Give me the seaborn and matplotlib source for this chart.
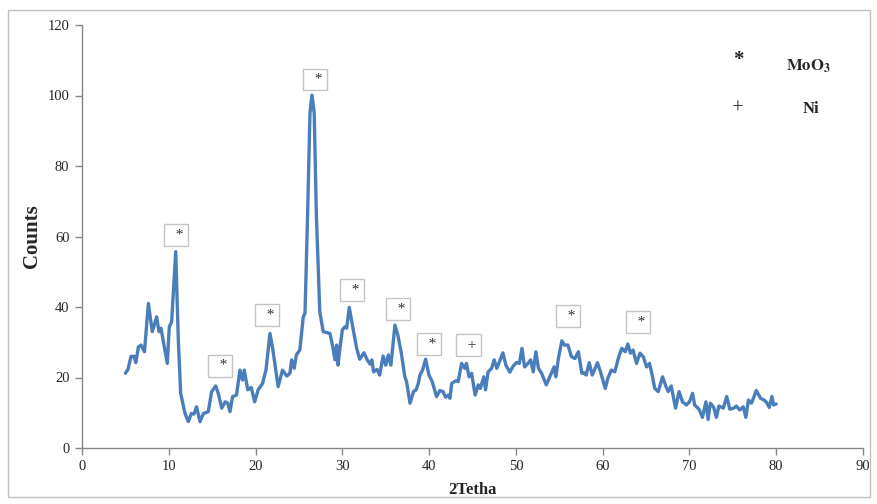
import matplotlib
matplotlib.use("Agg")
import matplotlib.pyplot as plt
import matplotlib.patches as mpatches
import seaborn as sns
import pandas as pd

two_theta = [5.0, 5.3, 5.65, 6.0, 6.2, 6.5, 6.8, 7.2, 7.65, 8.1, 8.6, 8.87, 9.1, 9.56, 9.83,
             10.06, 10.33, 10.8, 11.1, 11.37, 11.87, 12.25, 12.6, 12.9, 13.2, 13.6, 14.0,
             14.55, 14.94, 15.4, 15.7, 16.1, 16.5, 16.8, 17.05, 17.36, 17.8, 18.2, 18.5,
             18.7, 19.1, 19.5, 19.9, 20.3, 20.8, 21.2, 21.66, 22.0, 22.6, 23.1, 23.6,
             23.96, 24.16, 24.46, 24.7, 25.1, 25.5, 25.7, 26.0, 26.27, 26.5, 26.76, 27.0,
             27.4, 27.8, 28.26, 28.57, 28.9, 29.15, 29.34, 29.5, 29.7, 30.0, 30.3, 30.5,
             30.8, 31.26, 31.65, 32.0, 32.5, 32.87, 33.2, 33.4, 33.6, 34.0, 34.3, 34.7,
             35.0, 35.3, 35.6, 36.06, 36.4, 36.8, 37.2, 37.4, 37.8, 38.2, 38.5, 38.75,
             38.94, 39.25, 39.6, 39.98, 40.36, 40.86, 41.24, 41.6, 41.9, 42.2, 42.4, 42.6,
             43.1, 43.35, 43.74, 44.1, 44.3, 44.6, 44.9, 45.3, 45.66, 45.9, 46.3, 46.5,
             46.8, 47.2, 47.5, 47.8, 48.0, 48.5, 48.85, 49.3, 49.7, 50.1, 50.4, 50.7,
             51.0, 51.4, 51.7, 52.0, 52.3, 52.6, 52.96, 53.5, 54.0, 54.4, 54.6, 54.9,
             55.3, 55.6, 56.0, 56.4, 56.8, 57.2, 57.6, 57.8, 58.1, 58.45, 58.8, 59.4,
             59.8, 60.3, 60.6, 61.0, 61.4, 61.8, 62.2, 62.6, 62.9, 63.2, 63.5, 63.9,
             64.3, 64.7, 65.05, 65.4, 65.75, 66.0, 66.4, 66.9, 67.3, 67.55, 67.9, 68.4,
             68.8, 69.2, 69.66, 70.0, 70.36, 70.6, 71.1, 71.5, 71.9, 72.15, 72.4, 72.8,
             73.1, 73.4, 73.9, 74.3, 74.65, 75.1, 75.4, 75.8, 76.2, 76.5, 76.8, 77.15,
             77.7, 78.2, 78.6, 78.9, 79.2, 79.5, 79.7, 80.0]
counts = [21.2, 22.3, 26.0, 26.0, 24.2, 28.7, 29.2, 27.3, 41.0, 33.0, 37.2, 33.0, 34.0, 27.8, 24.0,
          34.4, 35.8, 55.7, 30.6, 15.5, 9.8, 7.5, 9.8, 9.6, 11.7, 7.5, 9.8,
          10.3, 16.0, 17.6, 15.5, 11.3, 13.1, 12.7, 10.3, 14.6, 15.0, 22.1, 19.3,
          22.1, 16.5, 17.2, 13.1, 16.5, 18.3, 22.1, 32.5, 27.8, 17.4, 22.1, 20.4,
          21.2, 25.0, 22.6, 26.4, 27.8, 37.2, 38.2, 66.6, 95.0, 100.1, 95.0, 66.6,
          38.7, 33.0, 32.7, 32.5, 28.7, 25.0, 29.2, 23.5, 27.8, 33.5, 34.4, 34.0,
          39.9, 33.5, 28.3, 25.2, 27.0, 25.0, 23.8, 25.0, 21.6, 22.3, 20.7, 26.1,
          23.5, 26.4, 23.5, 34.9, 32.0, 26.9, 20.2, 18.8, 12.7, 16.0, 16.5, 18.3,
          20.7, 22.1, 25.2, 20.7, 18.8, 14.6, 16.3, 16.0, 14.4, 15.0, 14.1, 18.3,
          19.1, 18.8, 24.0, 22.6, 24.0, 20.2, 21.2, 15.0, 17.9, 16.9, 20.2, 16.5,
          21.6, 22.6, 25.0, 22.6, 23.8, 27.0, 23.5, 21.5, 23.3, 24.3, 24.0, 28.3,
          23.0, 24.0, 25.0, 21.6, 27.3, 22.6, 21.2, 17.9, 20.7, 23.0, 20.2, 25.4,
          30.4, 29.2, 29.2, 25.9, 25.4, 27.3, 21.2, 21.4, 20.7, 24.2, 20.7, 24.2,
          21.2, 16.9, 19.8, 22.1, 21.6, 25.4, 28.3, 27.3, 29.5, 26.9, 27.8, 24.0,
          26.9, 25.8, 23.0, 24.0, 20.2, 16.9, 16.0, 20.2, 17.4, 16.0, 17.6, 11.3,
          16.0, 13.1, 12.2, 13.1, 15.5, 12.2, 11.0, 8.7, 13.1, 8.1, 12.7, 11.5,
          8.7, 11.9, 11.3, 14.6, 11.0, 11.3, 11.9, 10.8, 11.7, 8.7, 13.6, 12.7,
          16.3, 14.1, 13.6, 12.9, 11.5, 14.6, 12.2, 12.5]

# peak marker annotations (x, y, symbol)
mark_x = [10.83, 15.9, 21.3, 26.8, 31.1, 36.4, 40.0, 44.5, 56.0, 64.05]
mark_y = [60.4, 23.3, 37.7, 104.5, 44.8, 39.4, 29.5, 29.2, 37.4, 35.7]
mark_s = ["*", "*", "*", "*", "*", "*", "*", "+", "*", "*"]

x_ticks = [0, 10, 20, 30, 40, 50, 60, 70, 80, 90]
y_ticks = [0, 20, 40, 60, 80, 100, 120]

sns.set_style("white")
plt.rcParams["font.family"] = ["Liberation Serif", "DejaVu Serif"]
plt.rcParams["mathtext.fontset"] = "stix"

df = pd.DataFrame({"2Tetha": two_theta, "Counts": counts})

fig = plt.figure(figsize=(8.78, 5.04), dpi=100)
ax = fig.add_axes([82 / 878, 1 - 448 / 504, (863 - 82) / 878, (448 - 25) / 504])

sns.lineplot(data=df, x="2Tetha", y="Counts", ax=ax, color="#4a7ebb", linewidth=2.4,
             sort=False)

ax.set_xlim(0, 90)
ax.set_ylim(0, 120)
ax.set_xticks(x_ticks)
ax.set_yticks(y_ticks)
ax.tick_params(axis="both", which="both", direction="out", length=5, width=1,
               color="#868686", labelsize=10.5, pad=4, left=True, bottom=True)
for side in ["top", "right"]:
    ax.spines[side].set_visible(False)
for side in ["left", "bottom"]:
    ax.spines[side].set_color("#868686")
    ax.spines[side].set_linewidth(1)

ax.set_xlabel("2Tetha", fontsize=12, fontweight="bold", labelpad=6)
ax.set_ylabel("Counts", fontsize=15, fontweight="bold", labelpad=4)

for mx, my, ms in zip(mark_x, mark_y, mark_s):
    ax.text(mx, my, "  " + ms, ha="center", va="center", fontsize=11, color="#303030",
            bbox=dict(boxstyle="square,pad=0.28", fc="white", ec="#c4c4c4", lw=1.0))

# legend-like text in upper right
fig.text(738 / 878, 1 - 60 / 504, "*", fontsize=15, fontweight="bold", ha="center", va="center")
fig.text(808 / 878, 1 - 66 / 504, r"$\mathbf{MoO_3}$", fontsize=12, ha="center", va="center")
fig.text(738 / 878, 1 - 109 / 504, "+", fontsize=15, ha="center", va="center")
fig.text(811 / 878, 1 - 109 / 504, "Ni", fontsize=12, fontweight="bold", ha="center", va="center")

# outer frame
frame = mpatches.Rectangle((8 / 878, 1 - 497 / 504), (870 - 8) / 878, (497 - 10) / 504,
                           transform=fig.transFigure, fill=False, ec="#c0c0c0", lw=1)
fig.patches.append(frame)

fig.savefig("out.png", dpi=100)
